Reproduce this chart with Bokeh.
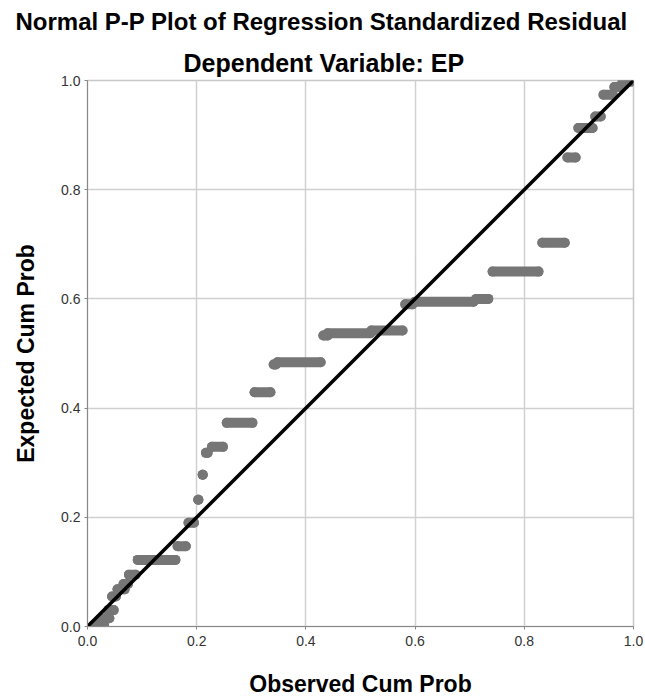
from bokeh.plotting import figure
from bokeh.models import Title, Range1d, FixedTicker, PrintfTickFormatter
from bokeh.embed import file_html
from bokeh.resources import INLINE

# Runs of tied residuals: expected cum prob (y) over a span of observed cum prob (x0..x1)
run_y  = [0.003, 0.015, 0.030, 0.055, 0.068, 0.078, 0.095, 0.122, 0.147, 0.190,
          0.232, 0.278, 0.318, 0.329, 0.373, 0.429, 0.480, 0.484, 0.533, 0.537,
          0.542, 0.590, 0.595, 0.600, 0.650, 0.703, 0.859, 0.913, 0.934, 0.974,
          0.988, 0.998]
run_x0 = [0.012, 0.025, 0.038, 0.045, 0.055, 0.066, 0.076, 0.092, 0.165, 0.185,
          0.203, 0.211, 0.217, 0.228, 0.255, 0.306, 0.341, 0.348, 0.432, 0.440,
          0.520, 0.582, 0.600, 0.712, 0.742, 0.833, 0.879, 0.899, 0.930, 0.945,
          0.965, 0.980]
run_x1 = [0.030, 0.040, 0.048, 0.052, 0.068, 0.074, 0.088, 0.161, 0.180, 0.195,
          0.203, 0.211, 0.220, 0.248, 0.302, 0.335, 0.345, 0.427, 0.440, 0.518,
          0.577, 0.595, 0.707, 0.734, 0.826, 0.874, 0.894, 0.925, 0.940, 0.962,
          0.978, 0.995]

ref_x = [0.0, 1.0]
ref_y = [0.0, 1.0]
ticks = [0.0, 0.2, 0.4, 0.6, 0.8, 1.0]

FONT = "Liberation Sans"
PT = "#767676"

p = figure(width=643, height=699, output_backend="svg", toolbar_location=None,
           x_range=Range1d(0, 1), y_range=Range1d(0, 1),
           min_border_left=87, min_border_right=10, min_border_top=80, min_border_bottom=72)

p.segment(run_x0, run_y, run_x1, run_y, line_width=10, line_cap="round", line_color=PT)
p.scatter(run_x0 + run_x1, run_y + run_y, size=10, fill_color=PT, line_color=None)
p.line(ref_x, ref_y, line_width=3.5, line_color="black")

for ax in (p.xaxis[0], p.yaxis[0]):
    ax.ticker = FixedTicker(ticks=ticks)
    ax.formatter = PrintfTickFormatter(format="%.1f")
    ax.major_label_text_font = FONT
    ax.major_label_text_font_size = "14px"
    ax.major_label_text_color = "#333333"
    ax.axis_label_text_font = FONT
    ax.axis_label_text_font_size = "23px"
    ax.axis_label_text_font_style = "bold"
    ax.axis_label_text_color = "black"
    ax.axis_line_color = "#888888"
    ax.major_tick_line_color = "#888888"
    ax.major_tick_out = 3
    ax.major_tick_in = 0
    ax.minor_tick_line_color = None

p.xaxis[0].axis_label = "Observed Cum Prob"
p.yaxis[0].axis_label = "Expected Cum Prob"
p.xaxis[0].major_label_standoff = 6
p.yaxis[0].major_label_standoff = 4
p.xaxis[0].axis_label_standoff = 22
p.yaxis[0].axis_label_standoff = 19

p.xgrid.ticker = FixedTicker(ticks=ticks)
p.ygrid.ticker = FixedTicker(ticks=ticks)
p.grid.grid_line_color = "#d0d0d0"
p.grid.grid_line_width = 1.5
p.outline_line_color = "#c8c8c8"
p.outline_line_width = 1.5

p.add_layout(Title(text="Dependent Variable: EP", align="left", offset=96,
                   text_font=FONT, text_font_size="25px", text_font_style="bold",
                   text_color="black", standoff=7), "above")
p.add_layout(Title(text="Normal P-P Plot of Regression Standardized Residual",
                   align="left", offset=-72, vertical_align="top",
                   text_font=FONT, text_font_size="24px", text_font_style="bold",
                   text_color="black", standoff=13), "above")

open("out.html", "w").write(file_html(p, INLINE))
